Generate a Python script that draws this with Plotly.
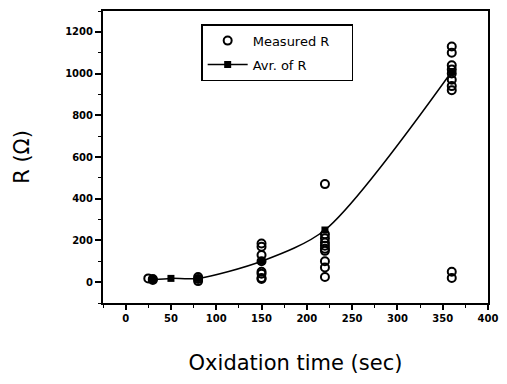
import plotly.graph_objects as go

# Measured R values (Ohm) at each oxidation time (sec)
meas_x = [25, 30, 30,
          80, 80, 80,
          150, 150, 150, 150, 150, 150, 150, 150,
          220, 220, 220, 220, 220, 220, 220, 220, 220, 220,
          360, 360, 360, 360, 360, 360, 360, 360, 360, 360]
meas_y = [18, 10, 15,
          5, 15, 25,
          185, 170, 130, 100, 50, 40, 20, 15,
          470, 230, 210, 190, 175, 160, 150, 100, 70, 25,
          1130, 1100, 1040, 1020, 1000, 970, 940, 920, 50, 20]

# Average of R
avg_x = [30, 50, 80, 150, 220, 360]
avg_y = [12, 18, 18, 100, 250, 1010]

x_ticks = [0, 50, 100, 150, 200, 250, 300, 350, 400]
y_ticks = [0, 200, 400, 600, 800, 1000, 1200]

fig = go.Figure()
fig.add_trace(go.Scatter(
    x=meas_x, y=meas_y, mode="markers", name="Measured R\u00a0\u00a0\u00a0\u00a0", legendgroup="a",
    marker=dict(symbol="circle-open", size=8, color="black", line=dict(width=2)),
))
fig.add_trace(go.Scatter(
    x=avg_x, y=avg_y, mode="lines+markers", name="Avr. of R", legendgroup="b",
    line=dict(color="black", width=1.5, shape="spline", smoothing=0.8),
    marker=dict(symbol="square", size=7, color="black"),
))

tickfont = dict(family="DejaVu Sans", size=10, color="black")
titlefont = dict(family="DejaVu Sans", size=21, color="black")
fig.update_layout(
    width=507, height=384,
    margin=dict(l=103, r=12, t=9, b=81),
    paper_bgcolor="white", plot_bgcolor="white",
    font=dict(family="DejaVu Sans", color="black"),
    showlegend=True,
    legend=dict(
        x=0.255, y=0.955, xanchor="left", yanchor="top",
        bgcolor="white", bordercolor="black", borderwidth=1.5,
        font=dict(size=13, family="DejaVu Sans", color="black"),
        itemwidth=40, tracegroupgap=4,
    ),
    xaxis=dict(
        range=[-25, 400], tickvals=x_ticks, ticktext=["<b>%d</b>" % v for v in x_ticks],
        ticks="outside", ticklen=5, tickwidth=1.5, tickcolor="black",
        minor=dict(dtick=25, ticks="outside", ticklen=3, tickcolor="black", tickwidth=1),
        showline=True, linecolor="black", linewidth=2, mirror=True,
        showgrid=False, zeroline=False, tickfont=tickfont,
        title=dict(text="Oxidation time (sec)", font=titlefont, standoff=32),
    ),
    yaxis=dict(
        range=[-100, 1300], tickvals=y_ticks, ticktext=["<b>%d</b>" % v for v in y_ticks],
        ticks="outside", ticklen=6, tickwidth=1.5, tickcolor="black",
        minor=dict(dtick=100, ticks="outside", ticklen=3, tickcolor="black", tickwidth=1),
        showline=True, linecolor="black", linewidth=2, mirror=True,
        showgrid=False, zeroline=False, tickfont=tickfont,
        title=dict(text="R (Ω)", font=titlefont, standoff=30),
    ),
)
fig.write_html("out.html")
